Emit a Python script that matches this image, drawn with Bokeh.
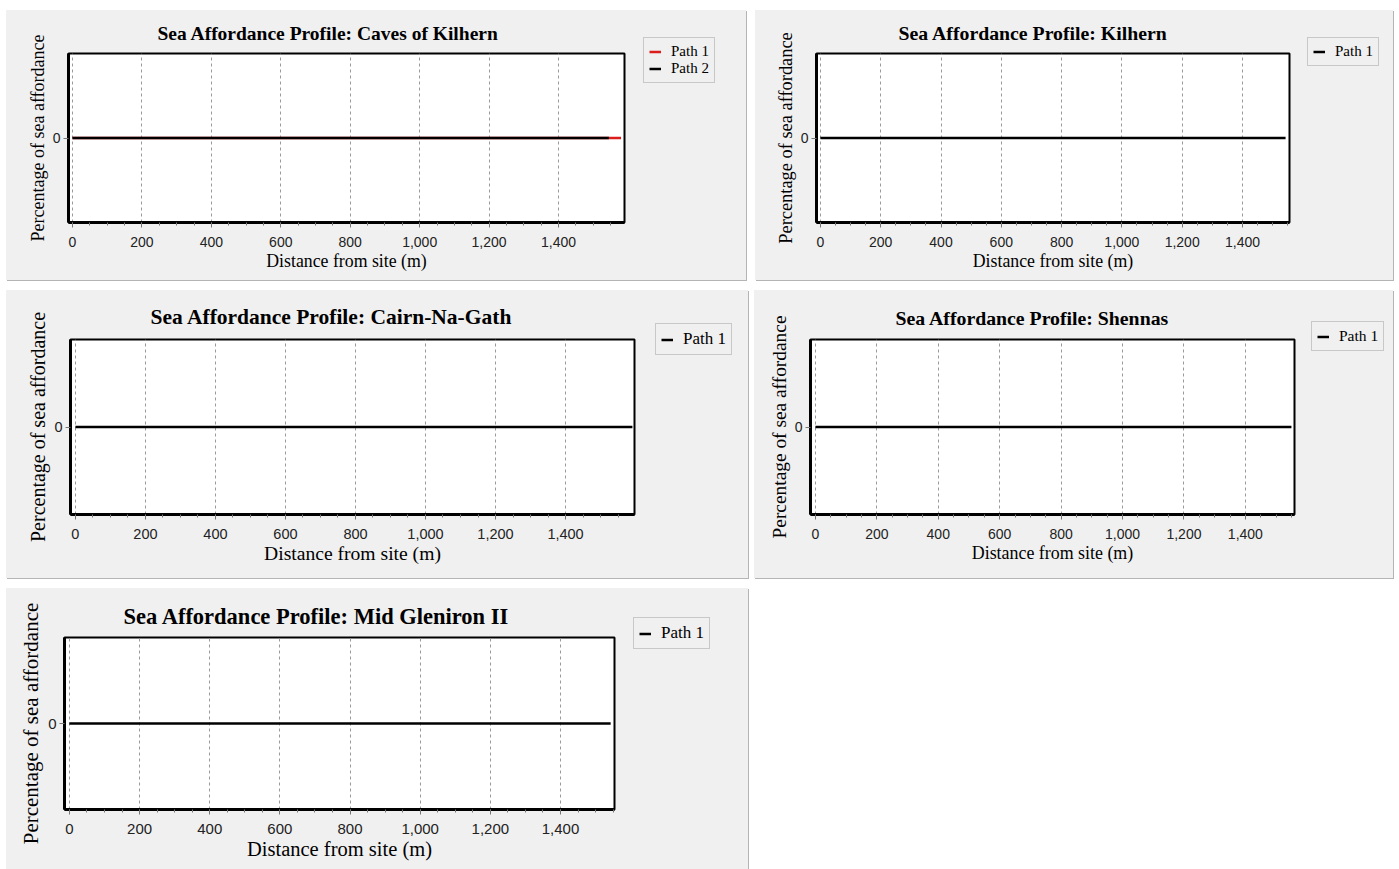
from bokeh.plotting import figure
from bokeh.models import (Range1d, Legend, LegendItem, SingleIntervalTicker,
                          FixedTicker, NumeralTickFormatter, Title)
from bokeh.layouts import column, row
from bokeh.embed import file_html
from bokeh.resources import INLINE

# ---------------- data ----------------
site_names = ["Caves of Kilhern", "Kilhern", "Cairn-Na-Gath", "Shennas", "Mid Gleniron II"]

caves_path1_dist = [0, 1580]
caves_path1_pct = [0, 0]
caves_path2_dist = [0, 1545]
caves_path2_pct = [0, 0]

kilhern_path1_dist = [0, 1543]
kilhern_path1_pct = [0, 0]

cairn_path1_dist = [0, 1591]
cairn_path1_pct = [0, 0]

shennas_path1_dist = [0, 1550]
shennas_path1_pct = [0, 0]

mid_path1_dist = [0, 1543]
mid_path1_pct = [0, 0]

y_ticks = [0]
x_tick_interval = 200

# ---------------- styling / layout ----------------
BG = "#f0f0f0"
SHADOW = "#b4b4b4"
SERIF = "Liberation Serif"
SANS = "Liberation Sans"


def make_panel(title, paths, xr, width, height, borders, margin,
               fonts, title_offset, title_standoff, leg_shift):
    left, right, top, bottom = borders
    title_size, xlab_size, ylab_size, tick_size, leg_size = fonts
    p = figure(width=width, height=height, output_backend="svg",
               toolbar_location=None, x_range=Range1d(*xr),
               y_range=Range1d(-1, 1),
               min_border_left=left, min_border_right=right,
               min_border_top=top, min_border_bottom=bottom,
               background_fill_color="white", border_fill_color=BG,
               outline_line_color="black", outline_line_width=2)
    p.margin = margin
    p.styles = {"box-shadow": f"1px 1px 0 0 {SHADOW}", "background-color": BG}
    t = Title(text=title, align="left", offset=title_offset,
              text_font=SERIF, text_font_style="bold",
              text_font_size=f"{title_size}px", text_color="black",
              standoff=title_standoff)
    p.add_layout(t, "above")

    # axes
    p.xaxis.ticker = SingleIntervalTicker(interval=x_tick_interval, num_minor_ticks=4)
    p.xaxis.formatter = NumeralTickFormatter(format="0,0")
    p.xaxis.axis_label = "Distance from site (m)"
    p.yaxis.axis_label = "Percentage of sea affordance"
    p.yaxis.ticker = FixedTicker(ticks=y_ticks)
    p.xaxis.axis_label_text_font_size = f"{xlab_size}px"
    p.yaxis.axis_label_text_font_size = f"{ylab_size}px"
    for ax in (p.xaxis, p.yaxis):
        ax.axis_label_text_font = SERIF
        ax.axis_label_text_font_style = "normal"
        ax.axis_label_text_color = "black"
        ax.major_label_text_font = SANS
        ax.major_label_text_font_size = f"{tick_size}px"
        ax.major_label_text_color = "#222222"
        ax.axis_line_color = "black"
        ax.axis_line_width = 3
        ax.major_tick_line_color = "#777777"
        ax.minor_tick_line_color = "#777777"
        ax.major_tick_in = 0
        ax.major_tick_out = 5
        ax.minor_tick_in = 0
        ax.minor_tick_out = 3
    p.xaxis.axis_label_standoff = 1
    p.xaxis.major_label_standoff = 9
    p.yaxis.axis_label_standoff = 2
    p.yaxis.major_label_standoff = 3
    p.yaxis.minor_tick_line_color = None
    p.yaxis.major_label_orientation = "horizontal"

    p.xgrid.grid_line_color = "#9a9a9a"
    p.xgrid.grid_line_dash = "3 3"
    p.xgrid.grid_line_width = 1
    p.ygrid.grid_line_color = None

    # transparent legend overlay laid over the right-hand grey border
    lg = figure(width=right, height=height, output_backend="svg",
                toolbar_location=None, x_range=Range1d(0, 1),
                y_range=Range1d(10, 11),
                x_axis_location=None, y_axis_location=None,
                min_border_left=0, min_border_right=0,
                min_border_top=0, min_border_bottom=0,
                background_fill_color=None, border_fill_color=None,
                outline_line_color=None)
    lg.title = None
    lg.margin = (margin[0], 0, 0, -right)
    dx, dy = leg_shift
    lg.styles = {"transform": f"translate({dx}px, {dy}px)"}
    lg.grid.grid_line_color = None

    items = []
    for label, xs, ys, color in paths:
        p.line(xs, ys, line_color=color, line_width=2.5)
        r = lg.line(xs, ys, line_color=color, line_width=2.5)
        items.append(LegendItem(label=label, renderers=[r]))
    leg = Legend(items=items, location="top_left",
                 label_text_font=SERIF, label_text_font_size=f"{leg_size}px",
                 label_text_color="black", label_text_line_height=0.9,
                 glyph_width=12, glyph_height=13, label_height=13,
                 label_standoff=10, spacing=-3, padding=5, margin=0,
                 border_line_color="#a0a0a0", border_line_width=1.5,
                 background_fill_color=BG, background_fill_alpha=1.0)
    lg.add_layout(leg)
    return p, lg


p1, l1 = make_panel("Sea Affordance Profile: " + site_names[0],
                    [("Path 1", caves_path1_dist, caves_path1_pct, "#dd1c1c"),
                     ("Path 2", caves_path2_dist, caves_path2_pct, "black")],
                    (-11.5, 1590), 740, 270, (62, 122, 42, 57),
                    (10, 0, 0, 6), (19.5, 17.8, 18, 14, 15), 89, 20, (19, -16))
p2, l2 = make_panel("Sea Affordance Profile: " + site_names[1],
                    [("Path 1", kilhern_path1_dist, kilhern_path1_pct, "black")],
                    (-13, 1556), 638, 270, (61, 104, 43, 58),
                    (10, 0, 0, 9), (19.8, 17.8, 18.4, 14, 15), 82, 19, (18, -16))
p3, l3 = make_panel("Sea Affordance Profile: " + site_names[2],
                    [("Path 1", cairn_path1_dist, cairn_path1_pct, "black")],
                    (-14, 1597), 742, 288, (64, 114, 47, 64),
                    (10, 0, 0, 6), (21.5, 19.6, 20, 14.5, 17), 80, 22, (21, -16))
p4, l4 = make_panel("Sea Affordance Profile: " + site_names[3],
                    [("Path 1", shennas_path1_dist, shennas_path1_pct, "black")],
                    (-16, 1560), 639, 288, (56, 99, 49, 63),
                    (10, 0, 0, 6), (19.8, 17.9, 19.4, 14, 15.5), 85, 21, (17, -18))
p5, l5 = make_panel("Sea Affordance Profile: " + site_names[4],
                    [("Path 1", mid_path1_dist, mid_path1_pct, "black")],
                    (-14, 1554), 742, 281, (58, 134, 49, 60),
                    (10, 0, 0, 6), (22.5, 20.5, 21, 15, 17), 59, 18, (19, -20))

layout = column(row(p1, l1, p2, l2), row(p3, l3, p4, l4), row(p5, l5))
open("out.html", "w").write(file_html(layout, INLINE))
